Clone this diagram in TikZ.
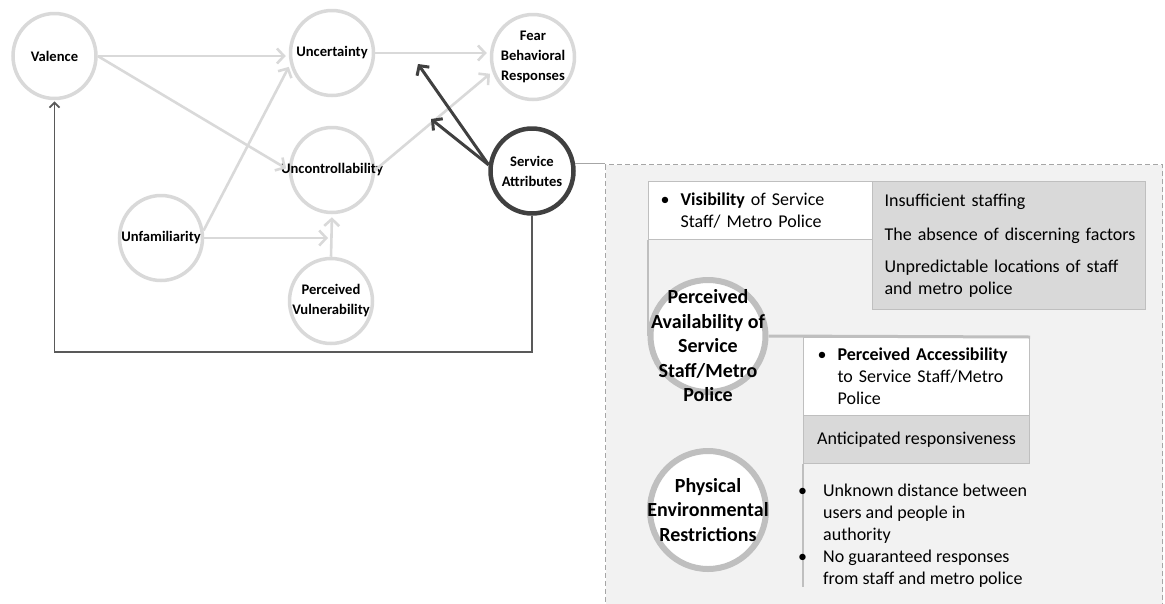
\documentclass[tikz,border=0pt]{standalone}
\usepackage{fontspec}
\setmainfont{Carlito}
\usetikzlibrary{shapes.geometric,arrows.meta}
\definecolor{nodegray}{HTML}{D9D9D9}
\definecolor{edgegray}{HTML}{D9D9D9}
\definecolor{darkedge}{HTML}{404040}
\definecolor{loopgray}{HTML}{595959}
\definecolor{panelfill}{HTML}{F2F2F2}
\definecolor{paneldash}{HTML}{A6A6A6}
\definecolor{cellgray}{HTML}{D9D9D9}
\definecolor{cellline}{HTML}{BFBFBF}
\newcommand{\bul}[1][20pt]{\makebox[#1][l]{\textbullet}}
\newcommand{\ind}[1][20pt]{\hspace*{#1}}
\begin{document}
\begin{tikzpicture}[x=1pt,y=-1pt,
  factor/.style={ellipse, draw=nodegray, line width=3.5pt, fill=white,
    minimum width=83pt, minimum height=85pt, inner sep=0pt},
  keyfactor/.style={factor, draw=darkedge, line width=4.5pt},
  flabel/.style={font=\bfseries\fontsize{14.6}{20}\selectfont, align=center, inner sep=0pt},
  lightarrow/.style={draw=edgegray, line width=2.6pt,
    -{Straight Barb[length=7pt,width=15pt]}, shorten >=3pt},
  darkarrow/.style={draw=darkedge, line width=3pt,
    -{Straight Barb[length=7pt,width=15pt]}},
  loopline/.style={draw=loopgray, line width=1.8pt,
    -{Straight Barb[length=5pt,width=10pt]}, shorten >=1pt},
  panel/.style={draw=paneldash, fill=panelfill, line width=1.3pt,
    dash pattern=on 5pt off 3pt, inner sep=0pt},
  cell/.style={draw=cellline, line width=1.2pt, inner ysep=0pt,
    font=\fontsize{18}{22}\selectfont},
  whitecell/.style={cell, fill=white},
  graycell/.style={cell, fill=cellgray},
  big/.style={ellipse, draw=cellline, line width=6pt, fill=white, inner sep=0pt},
  blabel/.style={font=\bfseries\fontsize{20}{24.5}\selectfont, align=center, inner sep=0pt},
  body/.style={font=\fontsize{18}{22}\selectfont, align=left, inner sep=0pt},
  rule/.style={draw=cellline, line width=2pt}
]
\useasboundingbox (0,0) rectangle (1165,603);

% ---- fear model ----
\node[factor, label={[flabel]center:Valence}] (val) at (54.5,56) {};
\node[factor, label={[flabel]center:Uncertainty}] (unc) at (332,53) {};
\node[factor, label={[flabel]center:{Fear\\Behavioral\\Responses}}] (fear) at (533,57) {};
\node[factor, label={[flabel]center:Uncontrollability}] (ctl) at (332,170) {};
\node[factor, label={[flabel]center:Unfamiliarity}] (unf) at (161,238) {};
\node[factor, label={[flabel]center:{Perceived\\Vulnerability}}] (vul) at (331,301) {};
\node[keyfactor, label={[flabel]center:{Service\\Attributes}}] (svc) at (532,171) {};

\draw[lightarrow] (val.east) -- (val.east -| unc.west);
\draw[lightarrow] (val.east) -- (ctl.west);
\draw[lightarrow] (unf.10) -- (unc.195);
\draw[lightarrow] (unf.east) -- (vul.north |- unf.east);
\draw[lightarrow] (vul.north) -- (ctl.south);
\draw[lightarrow] (unc.east) -- (unc.east -| fear.west);
\draw[lightarrow] (ctl.east) -- (fear.200);

\coordinate (svcA) at (418,64);
\coordinate (svcB) at (431,119);
\draw[darkarrow] (svc.172) -- (svcA);
\draw[darkarrow] (svc.172) -- (svcB);
\draw[loopline] (svc.south) -- (svc.south |- 0,352) -| (val.south);

% ---- service attributes panel ----
\node[panel, anchor=north west, minimum width=557pt, minimum height=470pt] (panel) at (605,164) {};
\draw[draw=paneldash, line width=1.2pt] (svc.10) -- (svc.10 -| panel.west);

\node[whitecell, anchor=north west, minimum height=58pt, text width=200pt,
  inner xsep=12pt, align=left] (vis) at (648,181)
  {\bul\textbf{Visibility} of Service\\\ind Staff/ Metro Police};
\node[graycell, anchor=north west, minimum height=128pt, text width=249pt,
  inner xsep=12pt, align=left] (gaps) at (872,181)
  {Insufficient staffing\\[12pt]\mbox{The absence of discerning factors}\\[10pt]Unpredictable locations of staff\\and metro police};

\coordinate (pavc) at (708,336);
\draw[rule] (vis.south west) -- (vis.south west |- pavc);
\node[big, minimum width=115pt, minimum height=112pt,
  label={[blabel, yshift=-10pt]center:{Perceived\\Availability of\\Service\\Staff/Metro\\Police}}] (pav) at (pavc) {};

\node[whitecell, anchor=north west, minimum height=78pt, text width=198pt,
  inner xsep=14pt, align=left] (acc) at (803,337)
  {\bul\mbox{\textbf{Perceived Accessibility}}\\\ind to Service Staff/Metro\\\ind Police};
\draw[rule, line width=3pt] (pav.east) -- (acc.north east);
\node[graycell, anchor=north west, minimum width=226pt, minimum height=48pt,
  inner xsep=2pt] (ant) at (803,415) {Anticipated responsiveness};

\coordinate (ruleend) at (803,587);
\draw[rule] (ant.south west) -- (ruleend);
\node[body, anchor=north west] (limits) at (798,484)
  {\bul[25pt]Unknown distance between\\\ind[25pt]users and people in\\\ind[25pt]authority\\
   \bul[25pt]No guaranteed responses\\\ind[25pt]from staff and metro police};

\node[big, minimum width=116pt, minimum height=118pt,
  label={[blabel]center:{Physical\\Environmental\\Restrictions}}] (per) at (708,510) {};
\end{tikzpicture}
\end{document}
